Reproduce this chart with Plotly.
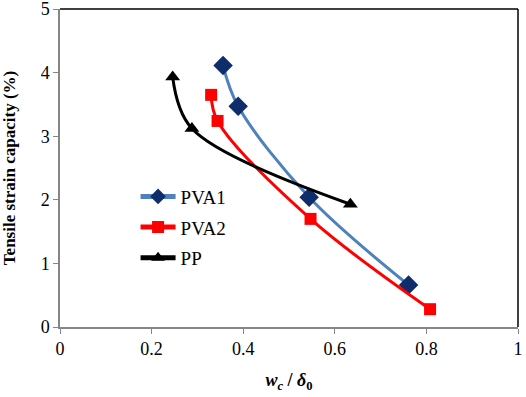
import plotly.graph_objects as go

pva1_x = [0.356, 0.389, 0.544, 0.761]
pva1_y = [4.11, 3.47, 2.04, 0.66]
pva2_x = [0.330, 0.344, 0.547, 0.808]
pva2_y = [3.65, 3.24, 1.70, 0.28]
pp_x = [0.246, 0.288, 0.634]
pp_y = [3.93, 3.12, 1.93]

x_ticks = [0, 0.2, 0.4, 0.6, 0.8, 1]
x_tick_labels = ["0", "0.2", "0.4", "0.6", "0.8", "1"]
y_ticks = [0, 1, 2, 3, 4, 5]

FONT = "Times New Roman, Liberation Serif, serif"

fig = go.Figure()
fig.add_trace(go.Scatter(
    x=pva1_x, y=pva1_y, name="PVA1", mode="lines+markers", legendgroup="a",
    line=dict(color="#4F81BD", width=3, shape="spline", smoothing=1),
    marker=dict(symbol="diamond", size=15, color="#0F2D6B", line=dict(width=0)),
))
fig.add_trace(go.Scatter(
    x=pva2_x, y=pva2_y, name="PVA2", mode="lines+markers", legendgroup="b",
    line=dict(color="#FF0000", width=3, shape="spline", smoothing=1),
    marker=dict(symbol="square", size=12, color="#FF0000", line=dict(width=0)),
))
fig.add_trace(go.Scatter(
    x=pp_x, y=pp_y, name="PP", mode="lines+markers", legendgroup="c",
    line=dict(color="#000000", width=3, shape="spline", smoothing=1),
    marker=dict(symbol="triangle-up", size=13, color="#000000", line=dict(width=0)),
))

fig.update_layout(
    width=526, height=397,
    margin=dict(l=60, r=8, t=9, b=70, autoexpand=False),
    paper_bgcolor="white", plot_bgcolor="white",
    font=dict(family=FONT, size=18, color="black"),
    showlegend=True,
    legend=dict(
        x=0.165, y=0.47, xanchor="left", yanchor="top",
        bgcolor="rgba(0,0,0,0)", font=dict(family=FONT, size=19),
        itemsizing="constant", itemwidth=35,
        traceorder="grouped", tracegroupgap=3,
    ),
    xaxis=dict(
        range=[0, 1], tickvals=x_ticks, ticktext=x_tick_labels,
        showgrid=False, zeroline=False,
        showline=True, linecolor="#868686", linewidth=1.5,
        ticks="outside", ticklen=5, tickcolor="#868686", tickwidth=1,
        tickfont=dict(family=FONT, size=18), ticklabeloverflow="allow",
        title=dict(text="<b><i>w</i><sub><i>c</i></sub> / <i>δ</i><sub>0</sub></b>",
                   font=dict(family=FONT, size=18), standoff=15),
    ),
    yaxis=dict(
        range=[0, 5], tickvals=y_ticks,
        showgrid=False, zeroline=False,
        showline=True, linecolor="#868686", linewidth=1.5,
        ticks="outside", ticklen=5, tickcolor="#868686", tickwidth=1,
        tickfont=dict(family=FONT, size=18), ticklabeloverflow="allow",
        title=dict(text="<b>Tensile strain capacity (%)</b>",
                   font=dict(family=FONT, size=17), standoff=22),
    ),
    shapes=[
        dict(type="line", xref="paper", yref="paper", x0=0, x1=1, y0=1, y1=1,
             line=dict(color="black", width=1.5)),
        dict(type="line", xref="paper", yref="paper", x0=1, x1=1, y0=0, y1=1,
             line=dict(color="black", width=1.5)),
    ],
)

fig.write_html(
    "out.html",
    config={"displayModeBar": False},
    post_script="document.body.style.margin='0';document.body.style.padding='0';",
)
